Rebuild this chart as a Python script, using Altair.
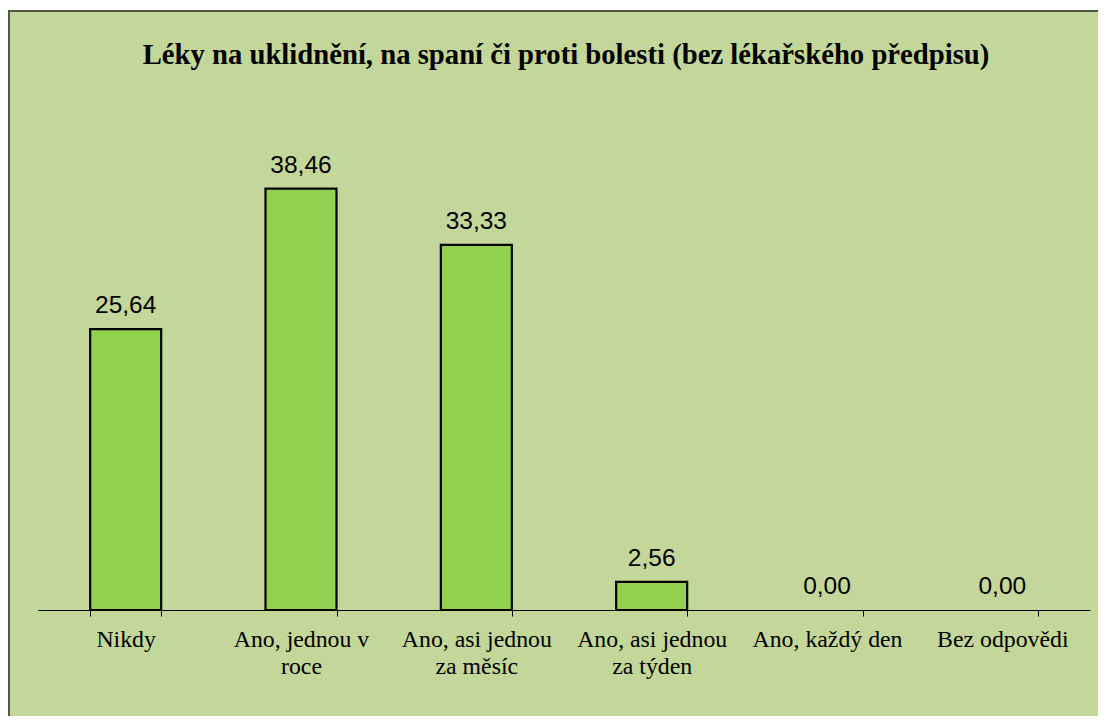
import altair as alt
import pandas as pd

categories = ["Nikdy", "Ano, jednou v roce", "Ano, asi jednou za měsíc",
              "Ano, asi jednou za týden", "Ano, každý den", "Bez odpovědi"]
label_lines = [["Nikdy"], ["Ano, jednou v", "roce"], ["Ano, asi jednou", "za měsíc"],
               ["Ano, asi jednou", "za týden"], ["Ano, každý den"], ["Bez odpovědi"]]
values = [25.64, 38.46, 33.33, 2.56, 0.00, 0.00]
title_text = "Léky na uklidnění, na spaní či proti bolesti (bez lékařského předpisu)"

df = pd.DataFrame({"cat": categories, "val": values,
                   "lbl": [f"{v:.2f}".replace(".", ",") for v in values]})

mapping = "{" + ", ".join(
    "'" + c + "': [" + ", ".join("'" + s + "'" for s in ls) + "]"
    for c, ls in zip(categories, label_lines)) + "}"

BG = "#C4D79B"
SERIF = "'Times New Roman', 'Liberation Serif', serif"
W, H = 1052, 493

xenc = alt.X("cat:N", sort=categories, title=None,
             scale=alt.Scale(paddingInner=0.595, paddingOuter=0.2975),
             axis=alt.Axis(labelAngle=0, labelFont=SERIF, labelFontSize=23.8,
                           labelColor="#000000", labelBaseline="top", labelLineHeight=27,
                           labelPadding=11, tickSize=6, tickColor="#000000", tickWidth=1,
                           domainColor="#000000", tickBand="extent", zindex=2,
                           labelExpr=mapping + "[datum.label]", labelLimit=300))
yenc = alt.Y("val:Q", scale=alt.Scale(domain=[0, 45]), axis=None)

frame = alt.Chart(pd.DataFrame({"a": [0]})).mark_rect(
    fill=BG, stroke="#4F5A3F", strokeWidth=2).encode(
    x=alt.value(-29), x2=alt.value(1200), y=alt.value(-106), y2=alt.value(800))

title = alt.Chart(pd.DataFrame({"t": [title_text]})).mark_text(
    font=SERIF, fontSize=28.7, fontWeight="bold", color="#000000",
    baseline="alphabetic", align="center").encode(
    x=alt.value(W / 2 + 2), y=alt.value(-53), text="t:N")

bars = alt.Chart(df).transform_filter("datum.val > 0").mark_bar(
    color="#92D050", stroke="#000000", strokeWidth=2.2).encode(x=xenc, y=yenc)

texts = alt.Chart(df).mark_text(font="Liberation Sans", fontSize=24.5, dy=-16,
                                baseline="alphabetic", color="#000000").encode(
    x=alt.X("cat:N", sort=categories), y="val:Q", text="lbl:N")

chart = alt.layer(frame, title, bars, texts).properties(
    width=W, height=H,
    autosize=alt.AutoSizeParams(type="none"),
    padding={"left": 30, "top": 109, "right": 8, "bottom": 106},
    background="#FFFFFF",
).configure_view(stroke=None)

chart.save("out.html", embed_options={"renderer": "svg", "actions": False})
